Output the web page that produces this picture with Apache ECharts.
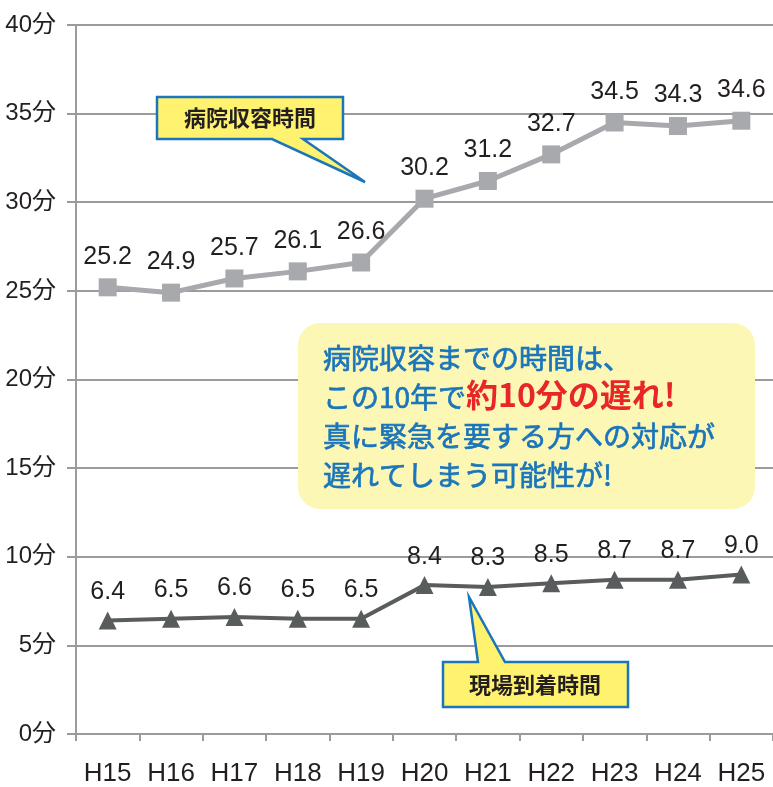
<!DOCTYPE html>
<html>
<head>
<meta charset="utf-8">
<script src="https://cdn.jsdelivr.net/npm/echarts@6/dist/echarts.min.js"></script>
<style>
  html, body { margin: 0; padding: 0; background: #fff; }
  #chart { width: 773px; height: 787px; }
</style>
</head>
<body>
<div id="chart"></div>
<script>
// 年度（平成）
const categories = ['H15', 'H16', 'H17', 'H18', 'H19', 'H20', 'H21', 'H22', 'H23', 'H24', 'H25'];
// 病院収容時間（分）
const hospitalTimes = [25.2, 24.9, 25.7, 26.1, 26.6, 30.2, 31.2, 32.7, 34.5, 34.3, 34.6];
// 現場到着時間（分）
const arrivalTimes = [6.4, 6.5, 6.6, 6.5, 6.5, 8.4, 8.3, 8.5, 8.7, 8.7, 9.0];

const NUM_FONT = "'Liberation Sans Narrow', 'Liberation Sans', 'Noto Sans CJK JP', sans-serif";
const JP_FONT = "'Noto Sans CJK JP', sans-serif";
const GRID_GRAY = '#9b9b9b';
const BLUE = '#1a75bb';

// 小数点以下1桁で表示（9 → 9.0）
const oneDecimal = (p) => Number(p.value).toFixed(1);

const chart = echarts.init(document.getElementById('chart'));

chart.setOption({
  backgroundColor: '#ffffff',
  animation: false,
  grid: { left: 76, top: 25, width: 701, height: 712 },
  xAxis: {
    type: 'category',
    data: categories,
    boundaryGap: true,
    axisLine: { lineStyle: { color: GRID_GRAY, width: 2 } },
    axisTick: { show: true, length: 7, lineStyle: { color: GRID_GRAY, width: 2 } },
    axisLabel: { color: '#231f20', fontSize: 26, fontFamily: NUM_FONT, margin: 27 },
    splitLine: { show: false }
  },
  yAxis: {
    type: 'value',
    min: 0,
    max: 40,
    interval: 5,
    axisLine: { show: true, lineStyle: { color: GRID_GRAY, width: 2 } },
    axisTick: { show: true, length: 9, lineStyle: { color: GRID_GRAY, width: 2 } },
    axisLabel: { formatter: '{value}分', color: '#231f20', fontSize: 24, fontFamily: NUM_FONT, margin: 20 },
    splitLine: { show: true, lineStyle: { color: GRID_GRAY, width: 2 } }
  },
  series: [
    {
      name: '病院収容時間',
      type: 'line',
      data: hospitalTimes,
      symbol: 'rect',
      symbolSize: 18,
      lineStyle: { color: '#a7a9ac', width: 5 },
      itemStyle: { color: '#a7a9ac' },
      label: { show: true, position: 'top', distance: 9, formatter: oneDecimal, color: '#231f20', fontSize: 25, fontFamily: NUM_FONT },
      z: 3
    },
    {
      name: '現場到着時間',
      type: 'line',
      data: arrivalTimes,
      symbol: 'triangle',
      symbolSize: 18,
      lineStyle: { color: '#595c5c', width: 4 },
      itemStyle: { color: '#595c5c' },
      label: { show: true, position: 'top', distance: 7, formatter: oneDecimal, color: '#231f20', fontSize: 25, fontFamily: NUM_FONT },
      z: 3
    }
  ],
  graphic: [
    // コメント枠
    {
      type: 'rect', z: 100,
      shape: { x: 298, y: 323, width: 457, height: 186, r: 22 },
      style: { fill: '#fdf7b6' }
    },
    {
      type: 'text', z: 101, x: 323, y: 333,
      style: {
        text: '{b|病院収容までの時間は、}\n{b|この10年で}{r|約10分の遅れ!}\n{b|真に緊急を要する方への対応が}\n{b|遅れてしまう可能性が!}',
        verticalAlign: 'top',
        rich: {
          b: { fill: BLUE, stroke: BLUE, lineWidth: 0.7, fontSize: 28, fontFamily: JP_FONT, lineHeight: 39, verticalAlign: 'bottom' },
          r: { fill: '#e8262a', fontSize: 32, fontFamily: JP_FONT, fontWeight: 'bold', lineHeight: 39, verticalAlign: 'bottom' }
        }
      }
    },
    // 吹き出し：病院収容時間
    {
      type: 'polygon', z: 100,
      shape: { points: [[157, 97], [343, 97], [343, 139], [303, 139], [365, 182], [272, 139], [157, 139]] },
      style: { fill: '#fef26f', stroke: BLUE, lineWidth: 2.5, lineJoin: 'miter' }
    },
    {
      type: 'text', z: 101, x: 250, y: 118,
      style: { text: '病院収容時間', fill: '#231f20', fontSize: 22, fontFamily: JP_FONT, fontWeight: 'bold', align: 'center', verticalAlign: 'middle' }
    },
    // 吹き出し：現場到着時間
    {
      type: 'polygon', z: 100,
      shape: { points: [[443, 662], [478, 662], [469, 597], [505, 662], [628, 662], [628, 707], [443, 707]] },
      style: { fill: '#fef26f', stroke: BLUE, lineWidth: 2.5, lineJoin: 'miter' }
    },
    {
      type: 'text', z: 101, x: 535, y: 685,
      style: { text: '現場到着時間', fill: '#231f20', fontSize: 22, fontFamily: JP_FONT, fontWeight: 'bold', align: 'center', verticalAlign: 'middle' }
    }
  ]
});
</script>
</body>
</html>
